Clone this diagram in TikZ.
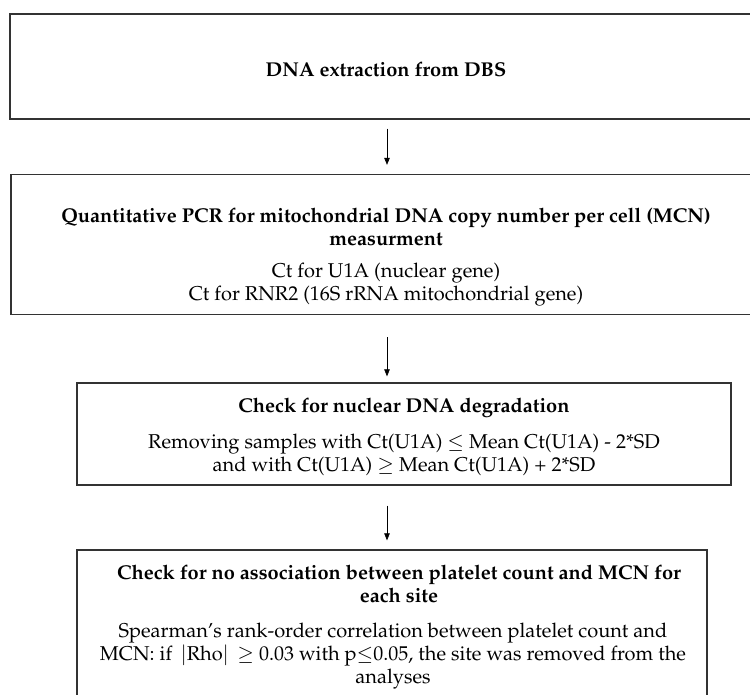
\documentclass[tikz,border=0pt]{standalone}
\usepackage[T1]{fontenc}
\usepackage{mathpazo}
\usetikzlibrary{arrows.meta}

\tikzset{
    box/.style={draw=black!80,line width=1.3pt,inner sep=0pt},
    txt/.style={align=center,inner sep=0pt},
    link/.style={-{Triangle[length=7pt,width=5.5pt]},line width=0.6pt},
}

\begin{document}
\begin{tikzpicture}[x=1pt,y=-1pt,font=\fontsize{20}{23}\selectfont]
    \useasboundingbox (0,0) rectangle (750,695);
    \clip (0,0) rectangle (750,695);

    % boxes
    \node[box,minimum width=755pt,minimum height=105pt] (extract) at (387.5,66.5) {};
    \node[box,minimum width=753pt,minimum height=140pt] (qpcr) at (387.5,244.5) {};
    \node[box,minimum width=654pt,minimum height=102pt] (degrade) at (404,434) {};
    \node[box,minimum width=630pt,minimum height=171pt] (platelet) at (392,635.5) {};

    % texts
    \node[txt] (extract-title) at (386,69) {\textbf{DNA extraction from DBS}};
    \node[txt] (qpcr-title) at (386,227) {\textbf{Quantitative PCR for mitochondrial DNA copy number per cell (MCN)}\\ \textbf{measurment}};
    \node[txt] (qpcr-body) at (386,285) {Ct for U1A (nuclear gene)\\ Ct for RNR2 (16S rRNA mitochondrial gene)};
    \node[txt] (degrade-title) at (404,408) {\textbf{Check for nuclear DNA degradation}};
    \node[txt] (degrade-body) at (404,455) {Removing samples with Ct(U1A) $\leq$ Mean Ct(U1A) - 2*SD\\ and with Ct(U1A) $\geq$ Mean Ct(U1A) + 2*SD};
    \node[txt] (platelet-title) at (399,584) {\textbf{Check for no association between platelet count and MCN for}\\ \textbf{each site}};
    \node[txt] (platelet-body) at (393,656) {Spearman's rank-order correlation between platelet count and\\ MCN: if \,$\vert$Rho$\vert$\, $\geq$ 0.03 with p$\leq$0.05, the site was removed from the\\ analyses};

    % arrows
    \draw[link] ([yshift=-9pt]extract.south -| 387,0) -- ([yshift=9pt]qpcr.north -| 387,0);
    \draw[link] ([yshift=-22pt]qpcr.south -| 387,0) -- ([yshift=6pt]degrade.north -| 387,0);
    \draw[link] ([yshift=-20pt]degrade.south -| 387,0) -- ([yshift=9pt]platelet.north -| 387,0);
\end{tikzpicture}
\end{document}
